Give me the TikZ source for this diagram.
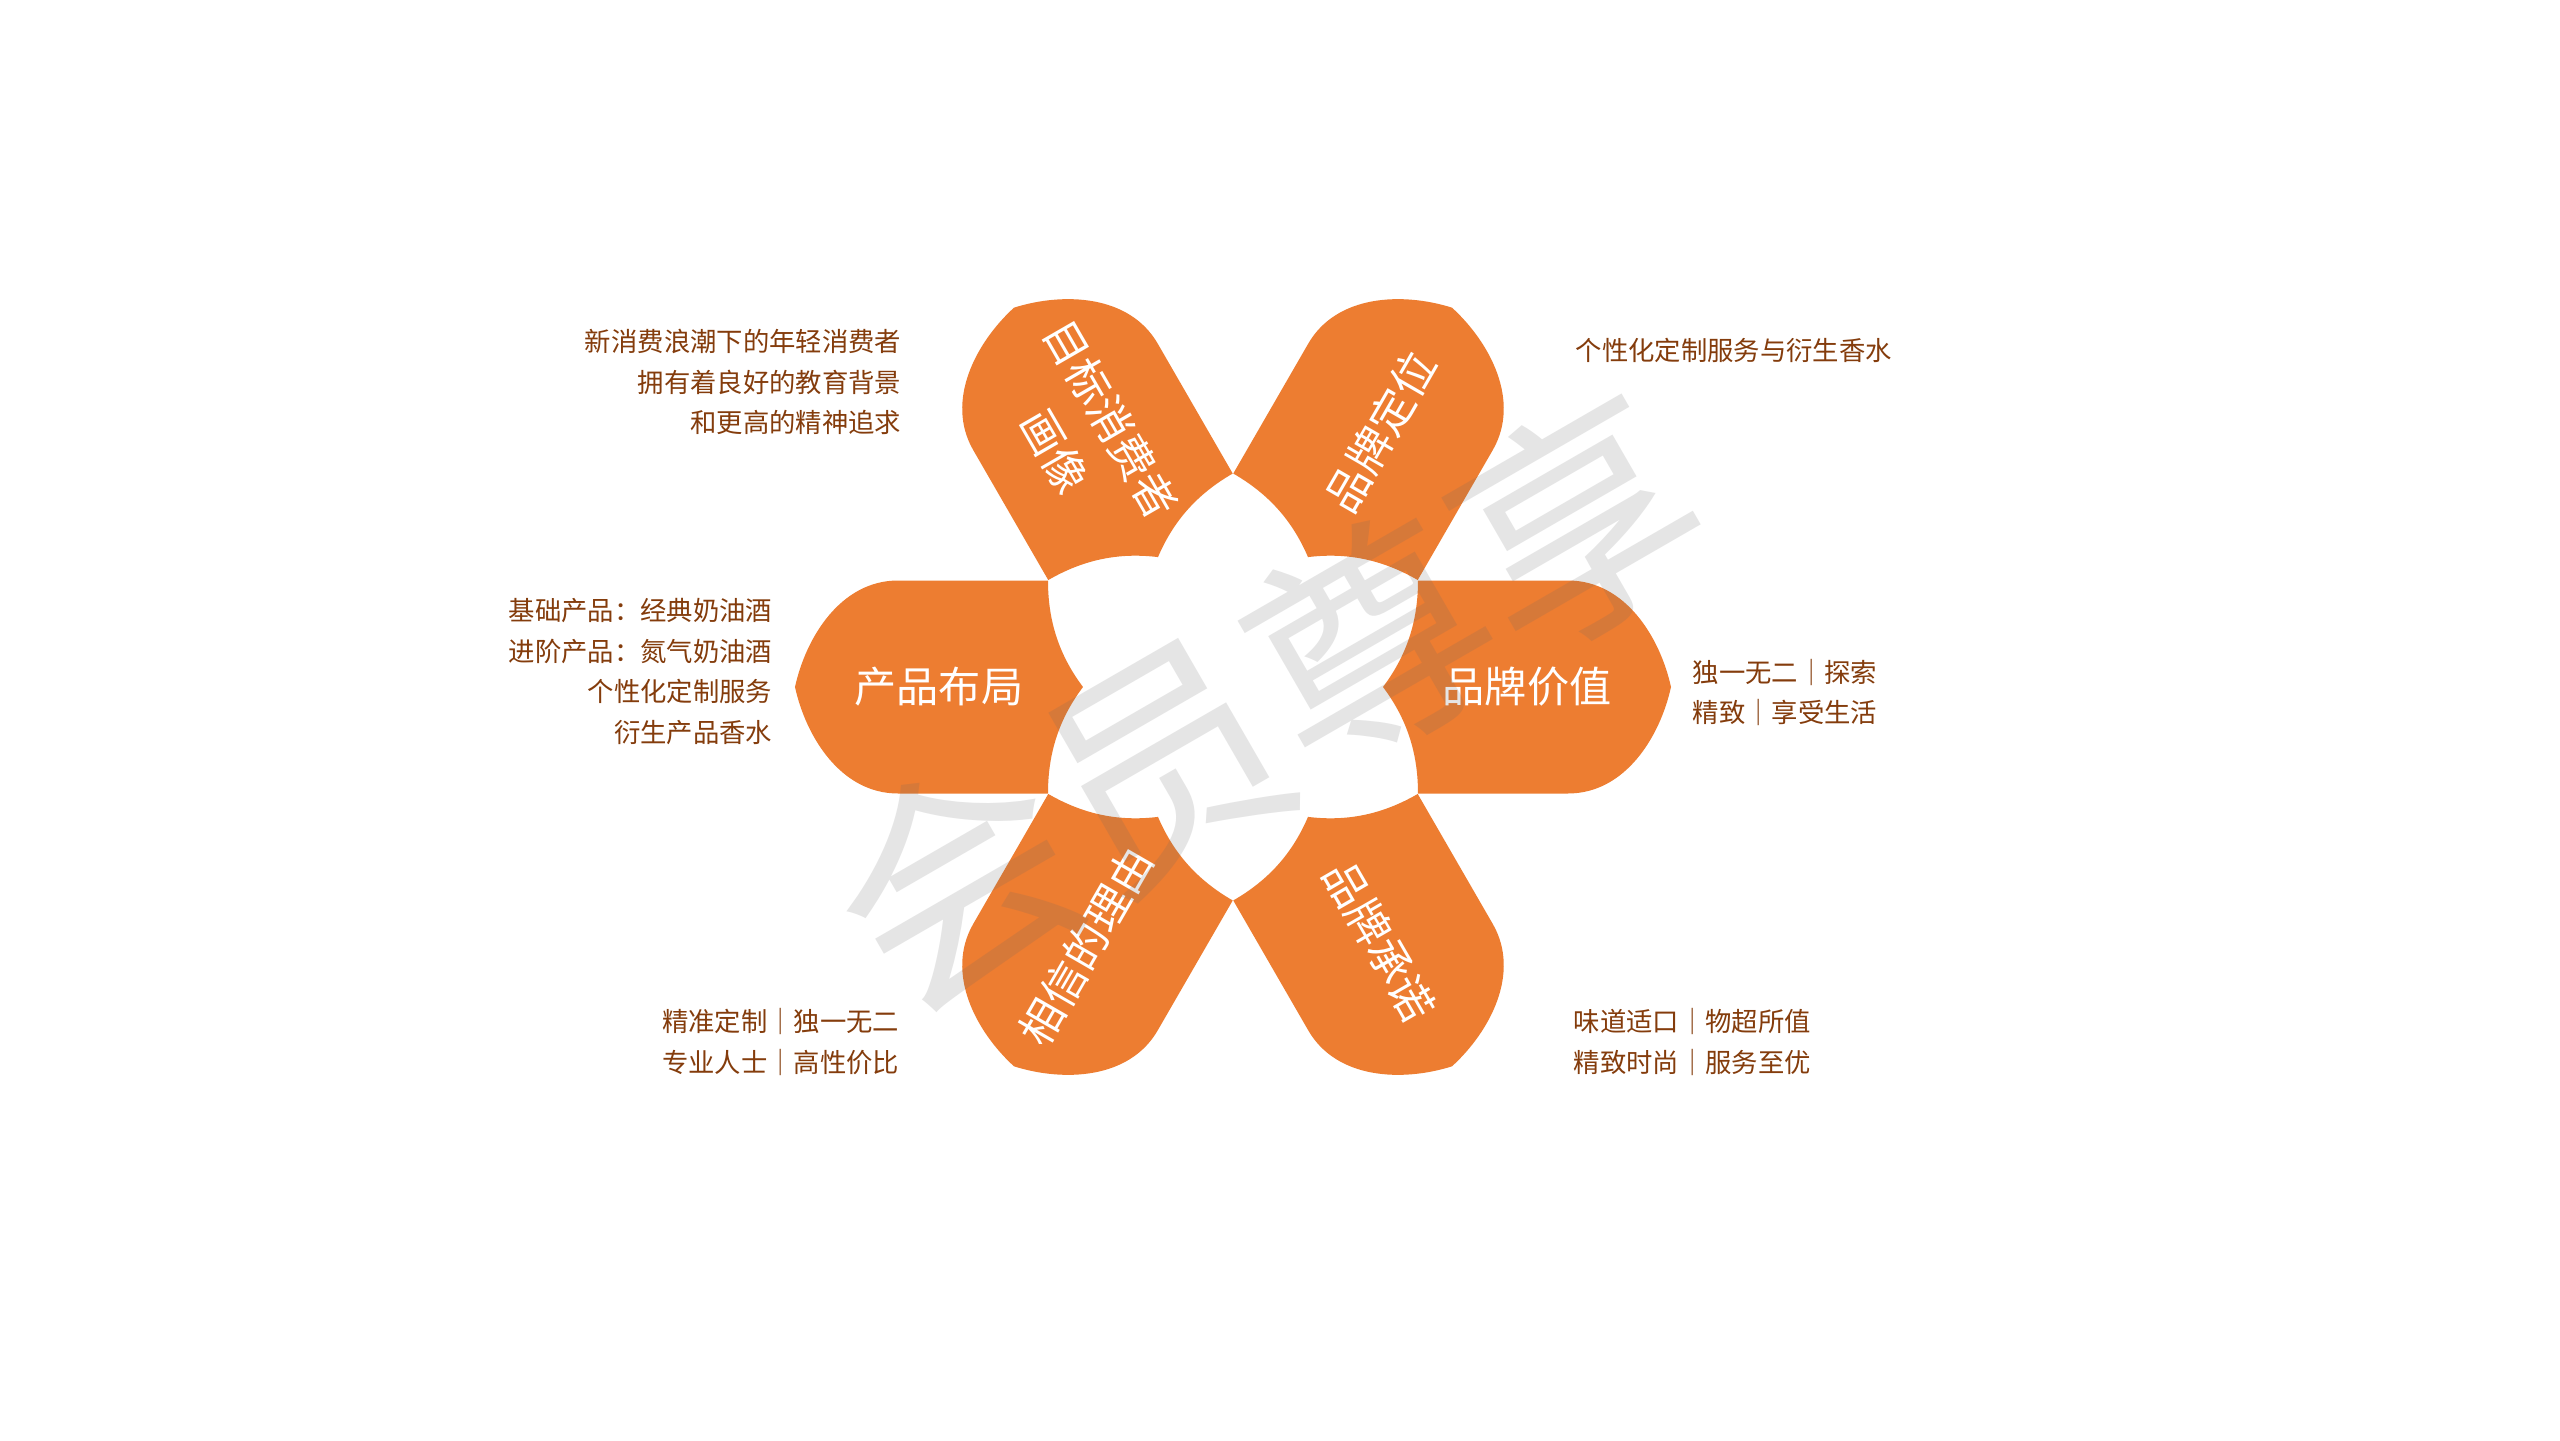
\documentclass[tikz,border=0pt]{standalone}
\usepackage{fontspec}
\setmainfont{Noto Sans CJK SC}
\definecolor{petalorange}{HTML}{ED7D31}
\definecolor{notebrown}{HTML}{843C0C}
\tikzset{
 petal/.style={fill=petalorange},
 petaltext/.style={text=white,font=\fontsize{12.5}{18.5}\selectfont,align=center,inner sep=0pt},
 flattext/.style={petaltext,font=\fontsize{12}{17}\selectfont},
 note/.style={text=notebrown,font=\fontsize{7.5}{11.6}\selectfont,inner sep=0pt},
 watermark/.style={text=black!60,opacity=0.17,font=\fontsize{68}{68}\selectfont,rotate=30}
}
\begin{document}
\begin{tikzpicture}
 \useasboundingbox (-12.33,-7.53) rectangle (13.27,6.87);
 \fill [white] (-12.33,-7.53) rectangle (13.27,6.87);

 \foreach \a in {0,60,...,300}
 \fill [petal,rotate=\a] (1.85,1.065) -- (3.35,1.065)
 .. controls (3.92,1.065) and (4.27,0.5) .. (4.38,0)
 .. controls (4.27,-0.5) and (3.92,-1.065) .. (3.35,-1.065)
 -- (1.85,-1.065) .. controls (1.85,-0.66) and (1.74,-0.32) .. (1.5,0)
 .. controls (1.74,0.32) and (1.85,0.66) .. cycle;

 \node [flattext] (value) at (0:2.94) {品牌价值};
 \node [petaltext,rotate=60] (position) at (60:2.95) {品牌定位};
 \node [petaltext,rotate=-60] (portrait) at (120.8:2.93) {目标消费者\\画像};
 \node [flattext] (layout) at (180:2.94) {产品布局};
 \node [petaltext,rotate=60] (reason) at (240.5:2.98) {相信的理由};
 \node [petaltext,rotate=-60] (promise) at (300:2.93) {品牌承诺};

 \node [note,anchor=east,align=right] (portraitnote) at (-3.31,3.05)
 {新消费浪潮下的年轻消费者\\拥有着良好的教育背景\\和更高的精神追求};
 \node [note,anchor=west,align=left] (positionnote) at (3.42,3.37)
 {个性化定制服务与衍生香水};
 \node [note,anchor=east,align=right] (layoutnote) at (-4.60,0.155)
 {基础产品：经典奶油酒\\进阶产品：氮气奶油酒\\个性化定制服务\\衍生产品香水};
 \node [note,anchor=west,align=left] (valuenote) at (4.59,-0.055)
 {独一无二｜探索\\精致｜享受生活};
 \node [note,anchor=east,align=right] (reasonnote) at (-3.33,-3.547)
 {精准定制｜独一无二\\专业人士｜高性价比};
 \node [note,anchor=west,align=left] (promisenote) at (3.40,-3.547)
 {味道适口｜物超所值\\精致时尚｜服务至优};

 \node [watermark] (stamp) at (0.33,-0.15) {会员尊享};
\end{tikzpicture}
\end{document}
